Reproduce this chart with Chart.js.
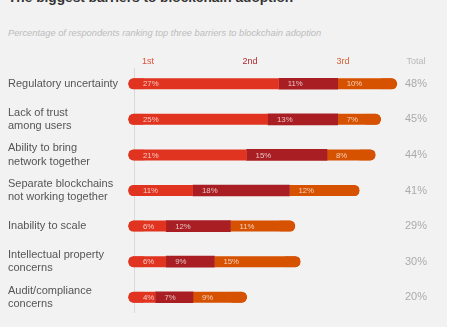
<!DOCTYPE html>
<html>
<head>
<meta charset="utf-8">
<script src="https://cdn.jsdelivr.net/npm/chart.js@4.4.1/dist/chart.umd.min.js"></script>
<style>
  html, body { margin: 0; padding: 0; background: #fff; }
  #wrap { position: relative; width: 451px; height: 330px; }
  #bg { position: absolute; left: 0; top: 0; width: 447px; height: 327px; background: #f2f2f2; }
  #title { position: absolute; left: 8px; top: -10px; font: bold 13.7px "Liberation Sans", Arial, sans-serif; color: #333; white-space: nowrap; }
  #subtitle { position: absolute; left: 8px; top: 28px; font: italic 9.3px "Liberation Sans", Arial, sans-serif; color: #bcbcbc; white-space: nowrap; }
  canvas { position: absolute; left: 0; top: 0; }
</style>
</head>
<body>
<div id="wrap">
  <div id="bg"></div>
  <div id="title">The biggest barriers to blockchain adoption</div>
  <div id="subtitle">Percentage of respondents ranking top three barriers to blockchain adoption</div>
  <canvas id="chart" width="451" height="330"></canvas>
</div>
<script>
// данные
const categories = [
    'Regulatory uncertainty',
    ['Lack of trust', 'among users'],
    ['Ability to bring', 'network together'],
    ['Separate blockchains', 'not working together'],
    'Inability to scale',
    ['Intellectual property', 'concerns'],
    ['Audit/compliance', 'concerns']
];
const first = [27, 25, 21, 11, 6, 6, 4];
const second = [11, 13, 15, 18, 12, 9, 7];
const third = [10, 7, 8, 12, 11, 15, 9];
const totals = [48, 45, 44, 41, 29, 30, 20];
const rankLabels = ['1st', '2nd', '3rd', 'Total'];

const colors = ['#e13420', '#a81e22', '#d65100'];
const headColors = ['#e0503c', '#b02a2e', '#cf6130', '#b8b8b8'];
const font = '"Liberation Sans", Arial, sans-serif';

// заголовки колонок, тонкая ось, подписи внутри и итоги
const extras = {
    id: 'extras',
    beforeDatasetsDraw(chart) {
        const {ctx, chartArea} = chart;
        ctx.save();
        ctx.strokeStyle = '#d9d9d9';
        ctx.lineWidth = 1;
        ctx.beginPath();
        ctx.moveTo(chartArea.left + 0.5, chartArea.top + 2);
        ctx.lineTo(chartArea.left + 0.5, chartArea.bottom - 2);
        ctx.stroke();
        ctx.restore();
    },
    afterDatasetsDraw(chart) {
        const {ctx} = chart;
        const x = chart.scales.x;
        const y = chart.scales.y;
        ctx.save();
        // подписи в сегментах
        ctx.font = '7.8px ' + font;
        ctx.fillStyle = 'rgba(255,255,255,0.72)';
        ctx.textAlign = 'left';
        ctx.textBaseline = 'middle';
        chart.data.datasets.forEach((ds, di) => {
            ds.data.forEach((v, i) => {
                let start = 0;
                for (let k = 0; k < di; k++) start += chart.data.datasets[k].data[i];
                ctx.fillText(v + '%', x.getPixelForValue(start) + 9, y.getPixelForValue(i) + 0.5);
            });
        });
        // итоги
        ctx.font = '11px ' + font;
        ctx.fillStyle = '#ababab';
        ctx.textAlign = 'center';
        totals.forEach((t, i) => {
            ctx.fillText(t + '%', 416, y.getPixelForValue(i));
        });
        // заголовки
        ctx.font = '9px ' + font;
        const hx = [148, 250, 343, 416];
        rankLabels.forEach((l, i) => {
            ctx.fillStyle = headColors[i];
            ctx.fillText(l, hx[i], 62);
        });
        ctx.restore();
    }
};

const data = {
    labels: categories,
    datasets: [{
        label: '1st',
        data: first,
        backgroundColor: colors[0],
        borderColor: colors[0],
        borderWidth: {left: 1},
        inflateAmount: 6,
        borderRadius: {topLeft: 6, bottomLeft: 6},
    }, {
        label: '2nd',
        data: second,
        backgroundColor: colors[1],
        borderWidth: 0,
        borderRadius: 0,
    }, {
        label: '3rd',
        data: third,
        backgroundColor: colors[2],
        borderColor: colors[2],
        borderWidth: {right: 1},
        inflateAmount: 6,
        borderRadius: {topRight: 6, bottomRight: 6},
    }]
};

const config = {
    type: 'bar',
    data: data,
    plugins: [extras],
    options: {
        indexAxis: 'y',
        responsive: false,
        animation: false,
        layout: {
            padding: {left: 8, right: 49, top: 66, bottom: 15}
        },
        datasets: {
            bar: {
                barThickness: 11,
                borderSkipped: false,
                clip: false
            }
        },
        scales: {
            x: {
                stacked: true,
                min: 0,
                max: 50,
                display: false
            },
            y: {
                stacked: true,
                grid: {display: false, drawTicks: false},
                border: {display: false},
                afterFit: (scale) => { scale.width = 126; },
                ticks: {
                    crossAlign: 'far',
                    padding: 0,
                    color: '#555',
                    font: {family: font, size: 11, lineHeight: 1.2}
                }
            }
        },
        plugins: {
            legend: {display: false},
            tooltip: {enabled: false}
        }
    }
};

new Chart(document.getElementById('chart').getContext('2d'), config);
</script>
</body>
</html>
